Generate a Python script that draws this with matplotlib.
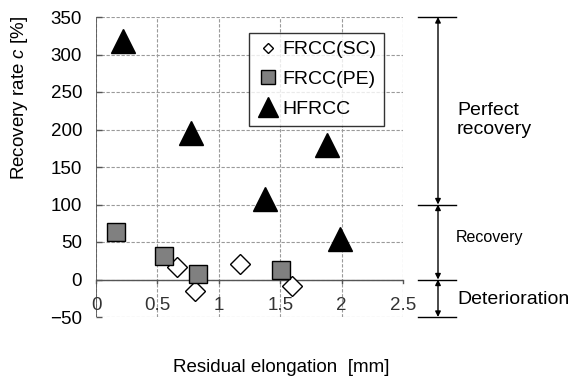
import matplotlib
matplotlib.use("Agg")
import matplotlib.pyplot as plt

plt.rcParams['font.family'] = ['Liberation Sans', 'DejaVu Sans']
plt.rcParams['mathtext.fontset'] = 'custom'
plt.rcParams['mathtext.it'] = 'Liberation Sans:italic'

sc_x = [0.66, 0.81, 1.17, 1.60]
sc_y = [17, -15, 21, -9]
pe_x = [0.16, 0.55, 0.83, 1.51]
pe_y = [64, 32, 8, 13]
hf_x = [0.22, 0.77, 1.38, 1.88, 1.99]
hf_y = [318, 196, 108, 179, 54]

xticks = [0, 0.5, 1, 1.5, 2, 2.5]
xtick_labels = ["0", "0.5", "1", "1.5", "2", "2.5"]
yticks = [-50, 0, 50, 100, 150, 200, 250, 300, 350]

fig = plt.figure(figsize=(5.73, 3.81), dpi=100)
ax = fig.add_axes([96/573, 1-317/381, (403-96)/573, 300/381])
ax.set_xlim(0, 2.5)
ax.set_ylim(-50, 350)

for x in xticks:
    ax.axvline(x, color='#9a9a9a', ls=(0, (3, 1.5)), lw=0.8, zorder=0)
for y in yticks:
    ax.axhline(y, color='#9a9a9a', ls=(0, (3, 1.5)), lw=0.8, zorder=0)
ax.axhline(0, color='#555555', lw=1.0, zorder=1)
ax.axvline(0, color='#555555', lw=1.2, zorder=1)
for s in ax.spines.values():
    s.set_visible(False)

ax.set_yticks(yticks)
ax.set_xticks([])
ax.tick_params(axis='y', direction='in', length=4, width=1.0, color='#555555',
               labelsize=13.5, pad=10)
for x in xticks:
    ax.plot([x, x], [0, -5], color='#555555', lw=1.0, clip_on=False)
for x, lab in zip(xticks, xtick_labels):
    ax.text(x, -35, lab, ha='center', va='center', fontsize=13.5, color='#333333')

ax.plot(sc_x, sc_y, ls='none', marker='D', ms=10, mfc='white', mec='black', mew=1.0,
        label='FRCC(SC)', zorder=3, clip_on=False)
ax.plot(pe_x, pe_y, ls='none', marker='s', ms=13, mfc='#808080', mec='black', mew=1.0,
        label='FRCC(PE)', zorder=3, clip_on=False)
ax.plot(hf_x, hf_y, ls='none', marker='^', ms=17, mfc='black', mec='black',
        label='HFRCC', zorder=3, clip_on=False)

leg = ax.legend(loc='upper left', bbox_to_anchor=(153/307, 1-16/300), fontsize=14,
                frameon=True, fancybox=False, edgecolor='black', handletextpad=0.1,
                handlelength=1.2, borderpad=0.4, labelspacing=0.62, borderaxespad=0)
leg.get_frame().set_linewidth(1.0)
for h, ms in zip(leg.legend_handles, [5, 10, 15]):
    h.set_markersize(ms)

fig.text(20/573, 1-98/381, 'Recovery rate $c$ [%]', rotation=90, ha='center', va='center',
         fontsize=13.5)
fig.text(281/573, 1-367/381, 'Residual elongation  [mm]', ha='center', va='center', fontsize=13.5)

# Right-side range annotations
xa = 2.785
for y in [350, 100, 0, -50]:
    ax.plot([2.62, 2.93], [y, y], color='black', lw=1.0, clip_on=False)
for y0, y1 in [(350, 100), (100, 0), (0, -50)]:
    ax.annotate('', xy=(xa, y0), xytext=(xa, y1), annotation_clip=False,
                arrowprops=dict(arrowstyle='<|-|>', color='black', lw=1.0,
                                mutation_scale=8, shrinkA=0, shrinkB=0))
ax.text(2.94, 213, 'Perfect\nrecovery', ha='left', va='center', fontsize=14,
        linespacing=1.15, clip_on=False)
ax.text(2.93, 56, 'Recovery', ha='left', va='center', fontsize=11.5, clip_on=False)
ax.text(2.94, -27, 'Deterioration', ha='left', va='center', fontsize=14, clip_on=False)

fig.savefig('out.png', dpi=100)
